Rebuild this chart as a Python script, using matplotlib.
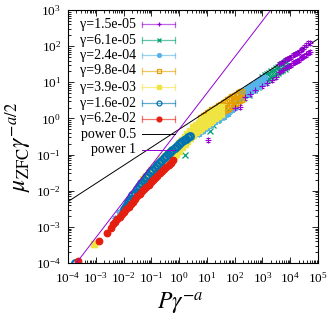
import numpy as np
import matplotlib.pyplot as plt
from matplotlib.ticker import LogLocator, NullFormatter

plt.rcParams['font.family'] = ['Liberation Serif', 'DejaVu Serif']
plt.rcParams['mathtext.fontset'] = 'stix'

# valores (log10 de x y de y)
red_lx = [-3.63, -2.87, -2.61, -2.46, -2.38, -2.30, -2.22, -2.14, -2.06, -1.98, -1.90, -1.82,
          -1.74, -1.66, -1.58, -1.50, -1.42, -1.34, -1.26, -1.18, -1.10, -1.02, -0.94, -0.86,
          -0.78, -0.70, -0.62, -0.54, -0.46, -0.38, -0.30, -0.22]
red_ly = [-3.94, -3.38, -3.16, -3.03, -2.93, -2.86, -2.79, -2.72, -2.65, -2.58, -2.51, -2.44,
          -2.37, -2.30, -2.22, -2.15, -2.08, -2.02, -1.96, -1.89, -1.83, -1.77, -1.71, -1.64,
          -1.58, -1.52, -1.46, -1.40, -1.34, -1.28, -1.22, -1.16]

blue_lx = [-3.75, -2.00, -1.92, -1.84, -1.76, -1.68, -1.60, -1.52, -1.44, -1.36, -1.28, -1.20,
           -1.12, -1.04, -0.96, -0.88, -0.80, -0.72, -0.64, -0.56, -0.48, -0.40, -0.32, -0.24,
           -0.16, -0.08, 0.00, 0.08, 0.16, 0.24, 0.32, 0.38]
blue_ly = [-4.00, -2.50, -2.41, -2.32, -2.23, -2.13, -2.05, -1.96, -1.88, -1.79, -1.71, -1.63,
           -1.56, -1.49, -1.43, -1.36, -1.30, -1.23, -1.17, -1.10, -1.04, -0.98, -0.93, -0.87,
           -0.82, -0.76, -0.71, -0.66, -0.61, -0.56, -0.51, -0.48]

yellow_lx = [-3.05, -1.3, -1.2, -1.1, -1.0, -0.9, -0.8, -0.7, -0.6, -0.5, -0.4, -0.3, -0.2, -0.1,
             0.0, 0.1, 0.2, 0.3, 0.4, 0.5, 0.6, 0.7, 0.8, 0.9, 1.0, 1.1, 1.2, 1.3, 1.4, 1.5]
yellow_hi = [-3.47, -1.68, -1.60, -1.52, -1.43, -1.35, -1.27, -1.20, -1.12, -1.05, -0.98, -0.91,
             -0.85, -0.78, -0.69, -0.60, -0.51, -0.42, -0.34, -0.25, -0.18, -0.12, -0.06, 0.00,
             0.05, 0.11, 0.17, 0.22, 0.27, 0.32]
yellow_lo = [-3.47, -1.88, -1.80, -1.72, -1.63, -1.55, -1.47, -1.40, -1.32, -1.25, -1.18, -1.11,
             -1.05, -0.98, -0.89, -0.80, -0.71, -0.62, -0.54, -0.45, -0.38, -0.32, -0.26, -0.20,
             -0.15, -0.09, -0.03, 0.02, 0.07, 0.12]

orange_lx = [0.80, 0.88, 0.96, 1.04, 1.12, 1.20, 1.28, 1.36, 1.44, 1.52, 1.60, 1.68, 1.76, 1.84,
             1.92, 2.00, 2.08, 2.16, 2.24]
orange_hi = [0.02, 0.06, 0.10, 0.14, 0.18, 0.22, 0.26, 0.30, 0.34, 0.38, 0.42, 0.46, 0.50, 0.54,
             0.58, 0.62, 0.66, 0.70, 0.74]
orange_lo = [-0.18, -0.14, -0.10, -0.06, -0.02, 0.02, 0.06, 0.10, 0.14, 0.18, 0.22, 0.26, 0.30,
             0.34, 0.38, 0.42, 0.46, 0.50, 0.54]

cyan_lx = [-2.30, -2.15, -2.00, -1.85, -1.70, -1.55, -1.40, -1.25, -1.10, -0.95, -0.80, -0.65,
           -0.50, -0.35, -0.20, -0.05, 0.10, 0.25, 0.40, 0.55, 0.70, 0.85, 1.00, 1.15, 1.30,
           1.45, 1.60, 1.75, 1.90, 2.05]
cyan_ly = [-2.75, -2.60, -2.46, -2.31, -2.17, -2.02, -1.88, -1.74, -1.61, -1.48, -1.36, -1.24,
           -1.12, -1.02, -0.92, -0.83, -0.74, -0.65, -0.57, -0.49, -0.42, -0.35, -0.27, -0.19,
           -0.11, -0.03, 0.05, 0.13, 0.22, 0.31]
cyan_band_lx = [2.20, 2.28, 2.36, 2.44, 2.52, 2.60, 2.68, 2.76, 2.84, 2.92, 3.00, 3.08]
cyan_band_hi = [0.72, 0.76, 0.80, 0.84, 0.88, 0.92, 0.96, 1.00, 1.04, 1.08, 1.12, 1.16]
cyan_band_lo = [0.54, 0.58, 0.62, 0.66, 0.70, 0.74, 0.78, 0.82, 0.86, 0.90, 0.94, 0.98]

green_lx = [0.22, 1.10, 1.23, 1.35, 1.47, 1.59, 1.77, 1.95, 2.13, 2.31, 2.50, 2.70, 2.85]
green_ly = [-1.00, -0.36, -0.18, -0.04, 0.05, 0.15, 0.24, 0.38, 0.47, 0.56, 0.66, 0.78, 0.86]
green_band_lx = [3.00, 3.08, 3.16, 3.24, 3.32, 3.40, 3.48, 3.56, 3.64, 3.72, 3.80, 3.86]
green_band_hi = [1.15, 1.19, 1.23, 1.27, 1.31, 1.35, 1.39, 1.43, 1.47, 1.51, 1.55, 1.58]
green_band_lo = [0.98, 1.02, 1.06, 1.10, 1.14, 1.18, 1.22, 1.26, 1.30, 1.34, 1.38, 1.41]

purple_lx = [1.05, 2.00, 2.20, 2.37, 2.55, 2.75, 2.97, 3.15, 3.33, 3.50]
purple_ly = [-0.59, 0.28, 0.33, 0.58, 0.68, 0.78, 0.89, 0.98, 1.07, 1.15]
purple_band_lx = [3.60, 3.67, 3.74, 3.81, 3.88, 3.95, 4.02, 4.09, 4.16, 4.23, 4.30, 4.37,
                  4.44, 4.51, 4.58, 4.65, 4.72]
purple_band_hi = [1.50, 1.54, 1.57, 1.61, 1.64, 1.68, 1.71, 1.75, 1.78, 1.82, 1.85, 1.89,
                  1.92, 1.98, 2.03, 2.08, 2.10]
purple_band_lo = [1.28, 1.32, 1.35, 1.39, 1.42, 1.46, 1.49, 1.53, 1.56, 1.60, 1.63, 1.67,
                  1.70, 1.74, 1.77, 1.81, 1.84]
purple_err = 0.13   # error relativo aprox.

power_coef = 0.5

labels = ['γ=1.5e-05', 'γ=6.1e-05', 'γ=2.4e-04', 'γ=9.8e-04',
          'γ=3.9e-03', 'γ=1.6e-02', 'γ=6.2e-02']
colors = ['#9400d3', '#009e73', '#56b4e9', '#e69f00', '#f0e442', '#0072b2', '#e51e10']


def p(v):
    return 10.0 ** np.array(v)


fig = plt.figure(figsize=(3.32, 3.22), dpi=100)
ax = fig.add_axes([68/332, 59/322, 250/332, 253/322])

ms = 4.2
# purple
for lx, ly in [(purple_lx, purple_ly), (purple_band_lx, purple_band_hi), (purple_band_lx, purple_band_lo)]:
    ax.errorbar(p(lx), p(ly), yerr=purple_err * p(ly), fmt='+', color=colors[0], ms=ms,
                mew=0.8, elinewidth=0.7, capsize=1.5, capthick=0.7)
# green
for lx, ly in [(green_lx, green_ly), (green_band_lx, green_band_hi), (green_band_lx, green_band_lo)]:
    ax.plot(p(lx), p(ly), 'x', color=colors[1], ms=ms, mew=0.9, ls='none')
# light blue
for lx, ly in [(cyan_lx, cyan_ly), (cyan_band_lx, cyan_band_hi), (cyan_band_lx, cyan_band_lo)]:
    ax.plot(p(lx), p(ly), marker=(8, 2, 0), color=colors[2], ms=ms, mew=0.9, ls='none')
# orange
for ly in [orange_hi, orange_lo]:
    ax.plot(p(orange_lx), p(ly), 's', color=colors[3], mfc='none', ms=ms, mew=1.0, ls='none')
# yellow
for ly in [yellow_hi, yellow_lo]:
    ax.plot(p(yellow_lx), p(ly), 's', color=colors[4], ms=ms, ls='none')
# blue
ax.plot(p(blue_lx), p(blue_ly), 'o', color=colors[5], mfc='none', ms=4.8, mew=1.6, ls='none')
# red
ax.plot(p(red_lx), p(red_ly), 'o', color=colors[6], ms=4.6, ls='none')

# rectas de potencia
xx = np.logspace(-4, 5, 50)
ax.plot(xx, power_coef * xx ** 0.5, color='black', lw=0.7)
ax.plot(xx, power_coef * xx, color=colors[0], lw=0.7)

ax.set_xscale('log')
ax.set_yscale('log')
ax.set_xlim(1e-4, 1e5)
ax.set_ylim(1e-4, 1e3)
ax.xaxis.set_major_locator(LogLocator(base=10, numticks=20))
ax.yaxis.set_major_locator(LogLocator(base=10, numticks=20))
ax.xaxis.set_minor_locator(LogLocator(base=10, subs=np.arange(2, 10), numticks=100))
ax.yaxis.set_minor_locator(LogLocator(base=10, subs=np.arange(2, 10), numticks=100))
ax.xaxis.set_minor_formatter(NullFormatter())
ax.yaxis.set_minor_formatter(NullFormatter())
ax.tick_params(which='both', direction='in', top=True, right=True, labelsize=9.5, width=0.6)
ax.tick_params(which='major', length=4)
ax.tick_params(which='minor', length=2)
ax.tick_params(axis='x', pad=6)
ax.tick_params(axis='y', pad=5)
for s in ax.spines.values():
    s.set_linewidth(0.8)

# leyenda a mano, estilo gnuplot
rows = [0.943, 0.881, 0.821, 0.759, 0.695, 0.632, 0.570, 0.508, 0.447]
mk = [('+', True), ('x', True), ((8, 2, 0), True), ('s', False), ('s', True), ('o', False), ('o', True)]
for i, lab in enumerate(labels):
    y = rows[i]
    ax.text(0.272, y, lab, transform=ax.transAxes, ha='right', va='center', fontsize=10)
    ax.plot([0.296, 0.428], [y, y], color=colors[i], lw=0.9, alpha=0.6, transform=ax.transAxes)
    for xe in [0.296, 0.428]:
        ax.plot([xe, xe], [y - 0.011, y + 0.011], color=colors[i], lw=0.9, alpha=0.6,
                transform=ax.transAxes)
    m, filled = mk[i]
    ax.plot([0.362], [y], marker=m, color=colors[i], ms=3.5, mew=0.9,
            mfc=colors[i] if filled else 'none', transform=ax.transAxes)
ax.text(0.272, rows[7], 'power 0.5', transform=ax.transAxes, ha='right', va='center', fontsize=10)
ax.plot([0.296, 0.428], [rows[7]] * 2, color='black', lw=0.7, transform=ax.transAxes)
ax.text(0.272, rows[8], 'power 1', transform=ax.transAxes, ha='right', va='center', fontsize=10)
ax.plot([0.296, 0.428], [rows[8]] * 2, color=colors[0], lw=0.7, transform=ax.transAxes)

fig.text(180/332, 1 - 304/322, r'$P\gamma^{-a}$', ha='center', va='center', fontsize=17)
fig.text(19/332, 1 - 147/322, r'$\mu_{\rm ZFC}\gamma^{-a/2}$', ha='center', va='center',
         fontsize=17, rotation=90)

fig.savefig('out.png', dpi=100)
